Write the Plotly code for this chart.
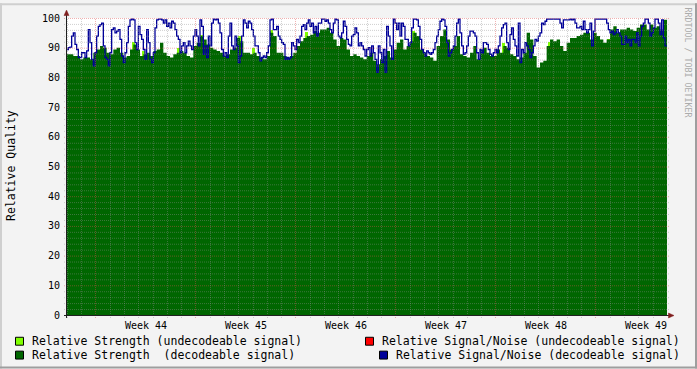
import math
import plotly.graph_objects as go
import pandas as pd

# ---------------- data ----------------
sample_start = "2011-10-28 22:43"
sn_step_minutes = 168
strength_step_minutes = 336

# Relative Signal/Noise (decodeable signal)
snr_decodeable = [
    89.4, 90.0, 90.2, 93.9, 95.0, 91.1, 89.4, 86.7, 86.7, 88.3, 88.3, 86.7, 88.9, 96.1, 91.7, 86.1,
    83.9, 88.3, 93.9, 97.2, 97.8, 98.3, 90.6, 86.7, 86.1, 83.9, 88.3, 96.1, 96.7, 95.0, 95.6, 96.1,
    92.8, 87.2, 85.0, 88.3, 91.7, 97.2, 99.4, 99.6, 99.4, 91.7, 89.4, 97.2, 94.4, 92.8, 89.4, 86.1,
    96.1, 91.7, 86.1, 85.0, 88.3, 96.7, 99.4, 99.6, 99.6, 99.4, 98.3, 99.4, 97.2, 98.3, 96.7, 98.9,
    98.3, 96.1, 93.9, 92.8, 88.3, 90.6, 91.7, 88.3, 90.6, 92.2, 90.6, 89.4, 93.9, 96.1, 93.9, 90.6,
    99.4, 97.2, 87.8, 90.6, 86.7, 93.9, 90.6, 98.3, 99.6, 99.4, 99.6, 98.3, 95.0, 89.4, 87.2, 88.3,
    86.7, 93.9, 98.3, 90.6, 89.4, 93.9, 90.6, 85.0,
    87.2, 93.9, 99.4, 98.3, 96.7, 98.9, 98.3, 96.1, 93.9, 90.6, 90.6, 88.3, 85.6, 86.7, 87.2, 86.7,
    88.3, 90.6, 99.4, 99.6, 96.1, 96.1, 97.2, 93.9, 92.8, 91.7, 91.1, 86.1, 86.7, 86.1, 86.7, 91.7,
    90.6, 89.4, 92.8, 91.7, 93.9, 97.2, 97.8, 96.1, 98.3, 99.4, 97.2, 98.3, 95.0, 97.2, 93.9, 98.3,
    98.3, 99.6, 99.6, 98.9, 99.4, 98.3, 96.1, 95.0, 98.3, 99.6, 99.4, 93.9, 93.3, 95.0, 98.9, 97.2,
    92.8, 91.1, 90.6, 93.9, 94.4, 96.7, 95.0, 90.6, 91.7, 90.6, 89.4, 87.2, 89.4, 90.0, 87.2, 90.6,
    88.3, 86.1, 81.7, 90.6, 88.3, 85.0, 89.4, 81.7, 97.2, 93.9, 90.6, 86.1, 99.6, 98.3, 96.1, 98.3,
    93.9, 98.3, 97.2, 92.8, 92.8, 90.6, 91.7, 96.7, 99.6, 99.6, 99.4, 97.2, 92.8, 89.4, 88.3, 87.2,
    88.9, 88.3, 87.8, 88.3, 89.4, 91.7, 93.9, 96.1, 98.9, 99.6, 99.4, 97.2, 91.7, 87.2, 88.3, 89.4,
    90.6, 93.9, 98.3, 99.6,
    95.0, 90.6, 87.8, 88.3, 90.6, 93.9, 95.6, 95.6, 95.0, 93.9, 88.3, 86.1, 89.4, 88.3, 91.7, 91.7,
    91.1, 89.4, 87.8, 87.2, 88.3, 89.4, 88.3, 90.6, 93.9, 96.7, 97.8, 98.3, 91.7, 89.4, 94.4, 96.7,
    92.8, 90.6, 87.2, 98.3, 85.0, 89.4, 88.3, 91.7, 90.6, 89.4, 86.7, 88.3, 90.6, 92.8, 92.2, 93.9,
    95.0, 98.3, 97.8, 98.9, 99.6, 99.6, 99.6, 99.6, 99.6, 99.6, 99.6, 99.6, 98.3, 96.7, 99.4, 99.4,
    99.4, 99.4, 99.6, 99.4, 99.6, 98.3, 96.7, 96.7, 97.2, 96.1, 98.9, 96.1, 95.0, 96.1, 98.3, 90.6,
    95.6, 99.6, 99.6, 99.6, 99.6, 99.6, 99.6, 99.6, 98.3, 96.1, 95.0, 95.6, 94.4, 95.0, 96.1, 95.0,
    93.9, 91.1, 91.1, 93.9, 91.7, 92.8, 90.6, 92.8, 92.8, 91.7, 95.0, 90.6, 93.9, 97.2, 98.3, 99.6,
    99.6, 98.3, 93.9, 95.0, 96.7, 99.6, 99.6, 98.3, 94.4, 99.4, 93.3, 90.6,
]

# Relative Strength (decodeable signal)
strength_decodeable = [
    87.8, 87.8, 87.2, 87.2, 86.1, 86.7, 86.7, 86.1, 88.3, 89.4, 90.6, 90.0, 88.3, 87.8, 89.4, 90.0,
    88.3, 86.7, 87.2, 89.4, 91.1, 89.4, 87.2, 87.8, 88.3, 87.2, 88.9, 89.4, 91.7, 88.3, 87.2, 86.7,
    87.8, 88.3, 88.9, 88.3, 87.2, 86.7, 90.6, 91.7, 93.9, 92.8, 91.1, 90.0, 89.4, 88.9, 88.3, 87.2,
    87.8, 89.4, 90.0, 93.3,
    92.2, 88.3, 88.3, 87.8, 88.3, 87.2, 86.7, 86.1, 87.2, 95.0, 93.9, 88.3, 88.3, 87.2, 86.7, 87.2,
    88.3, 90.6, 92.2, 93.3, 93.9, 94.4, 95.6, 95.0, 96.1, 96.1, 96.7, 95.0, 92.8, 90.6, 93.3, 92.8,
    89.4, 87.2, 87.8, 87.2, 86.7, 86.1, 87.2, 88.3, 85.6, 84.4, 86.1, 87.2, 88.9, 86.7, 89.4, 91.7,
    92.8, 89.4, 90.6, 92.2, 95.0, 93.9, 89.4, 88.3, 87.2, 86.7, 85.6, 90.6, 93.9, 96.1, 92.8, 89.4,
    90.6, 93.9,
    87.8, 87.2, 86.7, 88.3, 90.6, 86.1, 89.4, 90.0, 88.3, 87.2, 87.2, 89.4, 88.3, 90.6, 90.0, 87.8,
    87.2, 86.1, 86.7, 88.3, 95.0, 92.8, 87.2, 83.3, 85.0, 85.6, 90.6, 92.8, 92.2, 92.8, 90.6, 88.9,
    91.7, 93.3, 93.3, 93.9, 94.4, 95.0, 95.0, 92.8, 95.0, 93.9, 92.8, 91.7, 92.8, 96.1, 97.2, 95.0,
    96.1, 96.1, 96.7, 96.1, 95.6, 96.7, 97.8, 97.8, 96.1, 97.8, 96.7, 97.2, 96.1, 99.4,
]

# Relative Strength (undecodeable signal): sample index (Signal/Noise grid) and value
undecodeable_strength_idx = [40, 46, 57, 67, 81, 104, 112, 123, 144, 208, 262, 290, 325]
undecodeable_strength_val = [92.0, 89.0, 91.5, 90.0, 94.2, 94.0, 90.0, 96.0, 95.2, 95.5, 91.5, 91.8, 93.0]

week_labels = ["Week 44", "Week 45", "Week 46", "Week 47", "Week 48", "Week 49"]
week_label_pos = ["2011-11-03 12:00", "2011-11-10 12:00", "2011-11-17 12:00",
                  "2011-11-24 12:00", "2011-12-01 12:00", "2011-12-08 12:00"]
y_tick_values = [0, 10, 20, 30, 40, 50, 60, 70, 80, 90, 100]

legend_items = [
    ("Relative Strength (undecodeable signal)", "#80FF00"),
    ("Relative Signal/Noise (undecodeable signal)", "#FF0000"),
    ("Relative Strength  (decodeable signal)", "#006600"),
    ("Relative Signal/Noise (decodeable signal)", "#000099"),
]

x_range = ["2011-10-28 23:17", "2011-12-09 23:17"]

# ---------------- build ----------------
t0 = pd.Timestamp(sample_start)
t_end = pd.Timestamp(x_range[1])
sn_times = [t0 + pd.Timedelta(minutes=sn_step_minutes * i) for i in range(len(snr_decodeable))]
st_times = [t0 + pd.Timedelta(minutes=strength_step_minutes * i) for i in range(len(strength_decodeable))]
und_times = [t0 + pd.Timedelta(minutes=sn_step_minutes * i) for i in undecodeable_strength_idx]

# the last sample of each step series is held until the end of the time window
sn_x = sn_times + [t_end]
sn_y = snr_decodeable + [snr_decodeable[-1]]
st_x = st_times + [t_end]
st_y = strength_decodeable + [strength_decodeable[-1]]

W, H = 697, 369
ML, MR, MT, MB = 67, 30, 15, 54
PW, PH = W - ML - MR, H - MT - MB


def px(x):
    return (x - ML) / PW


def py(y):
    return (H - MB - y) / PH


FONT = "DejaVu Sans Mono"

fig = go.Figure()
fig.add_trace(go.Bar(x=und_times, y=undecodeable_strength_val, width=2 * sn_step_minutes * 60000,
                     marker=dict(color="#80FF00", line=dict(width=0)), hoverinfo="skip"))
fig.add_trace(go.Scatter(x=st_x, y=st_y, mode="lines", line=dict(color="#006600", width=0, shape="hv"),
                         fill="tozeroy", fillcolor="#006600", hoverinfo="skip"))
fig.add_trace(go.Scatter(x=sn_x, y=sn_y, mode="lines", line=dict(color="#000099", width=1.3, shape="hv"),
                         hoverinfo="skip"))

shapes = []
GRID = "rgba(143,143,143,0.42)"
MGRID = "rgba(222,79,79,0.45)"
# horizontal grid (snapped to pixel centres)
for v in range(2, 101, 2):
    col = MGRID if v % 10 == 0 else GRID
    yy = py(H - MB - v * PH / 100 + 0.5)
    shapes.append(dict(type="line", xref="paper", yref="paper", x0=px(64), x1=px(669), y0=yy, y1=yy,
                       line=dict(color=col, width=1, dash="1px,1px"), layer="above"))
# vertical grid (daily, weekly), snapped to pixel centres
r0 = pd.Timestamp(x_range[0])
span = (t_end - r0).total_seconds()
for d in pd.date_range("2011-10-29", "2011-12-09", freq="D"):
    col = MGRID if d.dayofweek == 0 else GRID
    pix = (d - r0).total_seconds() / span * PW
    xx = (math.floor(pix) + 0.5) / PW
    shapes.append(dict(type="line", xref="paper", yref="paper", x0=xx, x1=xx, y0=py(318), y1=1,
                       line=dict(color=col, width=1, dash="1px,1px"), layer="above"))
AXIS = "#1F1F1F"
ARROW = "#801F1F"
shapes.append(dict(type="line", xref="paper", yref="paper", x0=px(64), x1=px(670), y0=py(315.5), y1=py(315.5),
                   line=dict(color=AXIS, width=1), layer="above"))
shapes.append(dict(type="line", xref="paper", yref="paper", x0=px(66.5), x1=px(66.5), y0=py(318), y1=py(11),
                   line=dict(color=AXIS, width=1), layer="above"))
shapes.append(dict(type="path", xref="paper", yref="paper",
                   path=f"M {px(66.5)},{py(7)} L {px(64)},{py(12.5)} L {px(69)},{py(12.5)} Z",
                   fillcolor=ARROW, line=dict(color=ARROW, width=0.5), layer="above"))
shapes.append(dict(type="path", xref="paper", yref="paper",
                   path=f"M {px(674)},{py(315.5)} L {px(668.5)},{py(313)} L {px(668.5)},{py(318)} Z",
                   fillcolor=ARROW, line=dict(color=ARROW, width=0.5), layer="above"))
# frame shading
shapes.append(dict(type="rect", xref="paper", yref="paper", x0=px(0), x1=px(697), y0=py(0), y1=py(2),
                   fillcolor="#CFCFCF", line=dict(width=0), layer="above"))
shapes.append(dict(type="rect", xref="paper", yref="paper", x0=px(0), x1=px(2), y0=py(0), y1=py(369),
                   fillcolor="#CFCFCF", line=dict(width=0), layer="above"))
shapes.append(dict(type="rect", xref="paper", yref="paper", x0=px(0), x1=px(697), y0=py(367), y1=py(369),
                   fillcolor="#9E9E9E", line=dict(width=0), layer="above"))
shapes.append(dict(type="rect", xref="paper", yref="paper", x0=px(695), x1=px(697), y0=py(0), y1=py(369),
                   fillcolor="#9E9E9E", line=dict(width=0), layer="above"))

# legend
legend_pos = [(15, 337, 29.5, 341.3), (365, 337, 379.5, 341.3), (15, 351, 29.5, 355.3), (379, 351, 393.5, 355.3)]
annotations = []
for (label, color), (bx, by, tx, ty) in zip(legend_items, legend_pos):
    shapes.append(dict(type="rect", xref="paper", yref="paper", x0=px(bx + 0.5), x1=px(bx + 8.5),
                       y0=py(by + 0.5), y1=py(by + 8.5),
                       fillcolor=color, line=dict(color="black", width=1), layer="above"))
    annotations.append(dict(xref="paper", yref="paper", x=px(tx), y=py(ty), xanchor="left", yanchor="middle",
                            text=label, showarrow=False, font=dict(family=FONT, size=11.5, color="black")))

annotations.append(dict(xref="paper", yref="paper", x=px(11), y=py(164.5), xanchor="center", yanchor="middle",
                        text="Relative Quality", textangle=-90, showarrow=False,
                        font=dict(family=FONT, size=11.5, color="black")))
annotations.append(dict(xref="paper", yref="paper", x=px(688), y=py(60), xanchor="center", yanchor="middle",
                        text="RRDTOOL / TOBI OETIKER", textangle=90, showarrow=False,
                        font=dict(family=FONT, size=8.3, color="#ABABAB")))

fig.update_layout(
    width=W, height=H, margin=dict(l=ML, r=MR, t=MT, b=MB),
    paper_bgcolor="#F3F3F3", plot_bgcolor="#FFFFFF",
    showlegend=False, bargap=0,
    shapes=shapes, annotations=annotations,
    font=dict(family=FONT, size=10, color="black"),
    xaxis=dict(type="date", range=x_range, tickvals=week_label_pos, ticktext=week_labels,
               showgrid=False, zeroline=False, showline=False, ticks="", ticklabelstandoff=3,
               tickfont=dict(family=FONT, size=10, color="black"), fixedrange=True),
    yaxis=dict(range=[0, 100], tickvals=y_tick_values, showgrid=False, zeroline=False, showline=False,
               ticks="", ticklabelstandoff=6, tickfont=dict(family=FONT, size=10, color="black"), fixedrange=True),
)

fig.write_html("out.html")
